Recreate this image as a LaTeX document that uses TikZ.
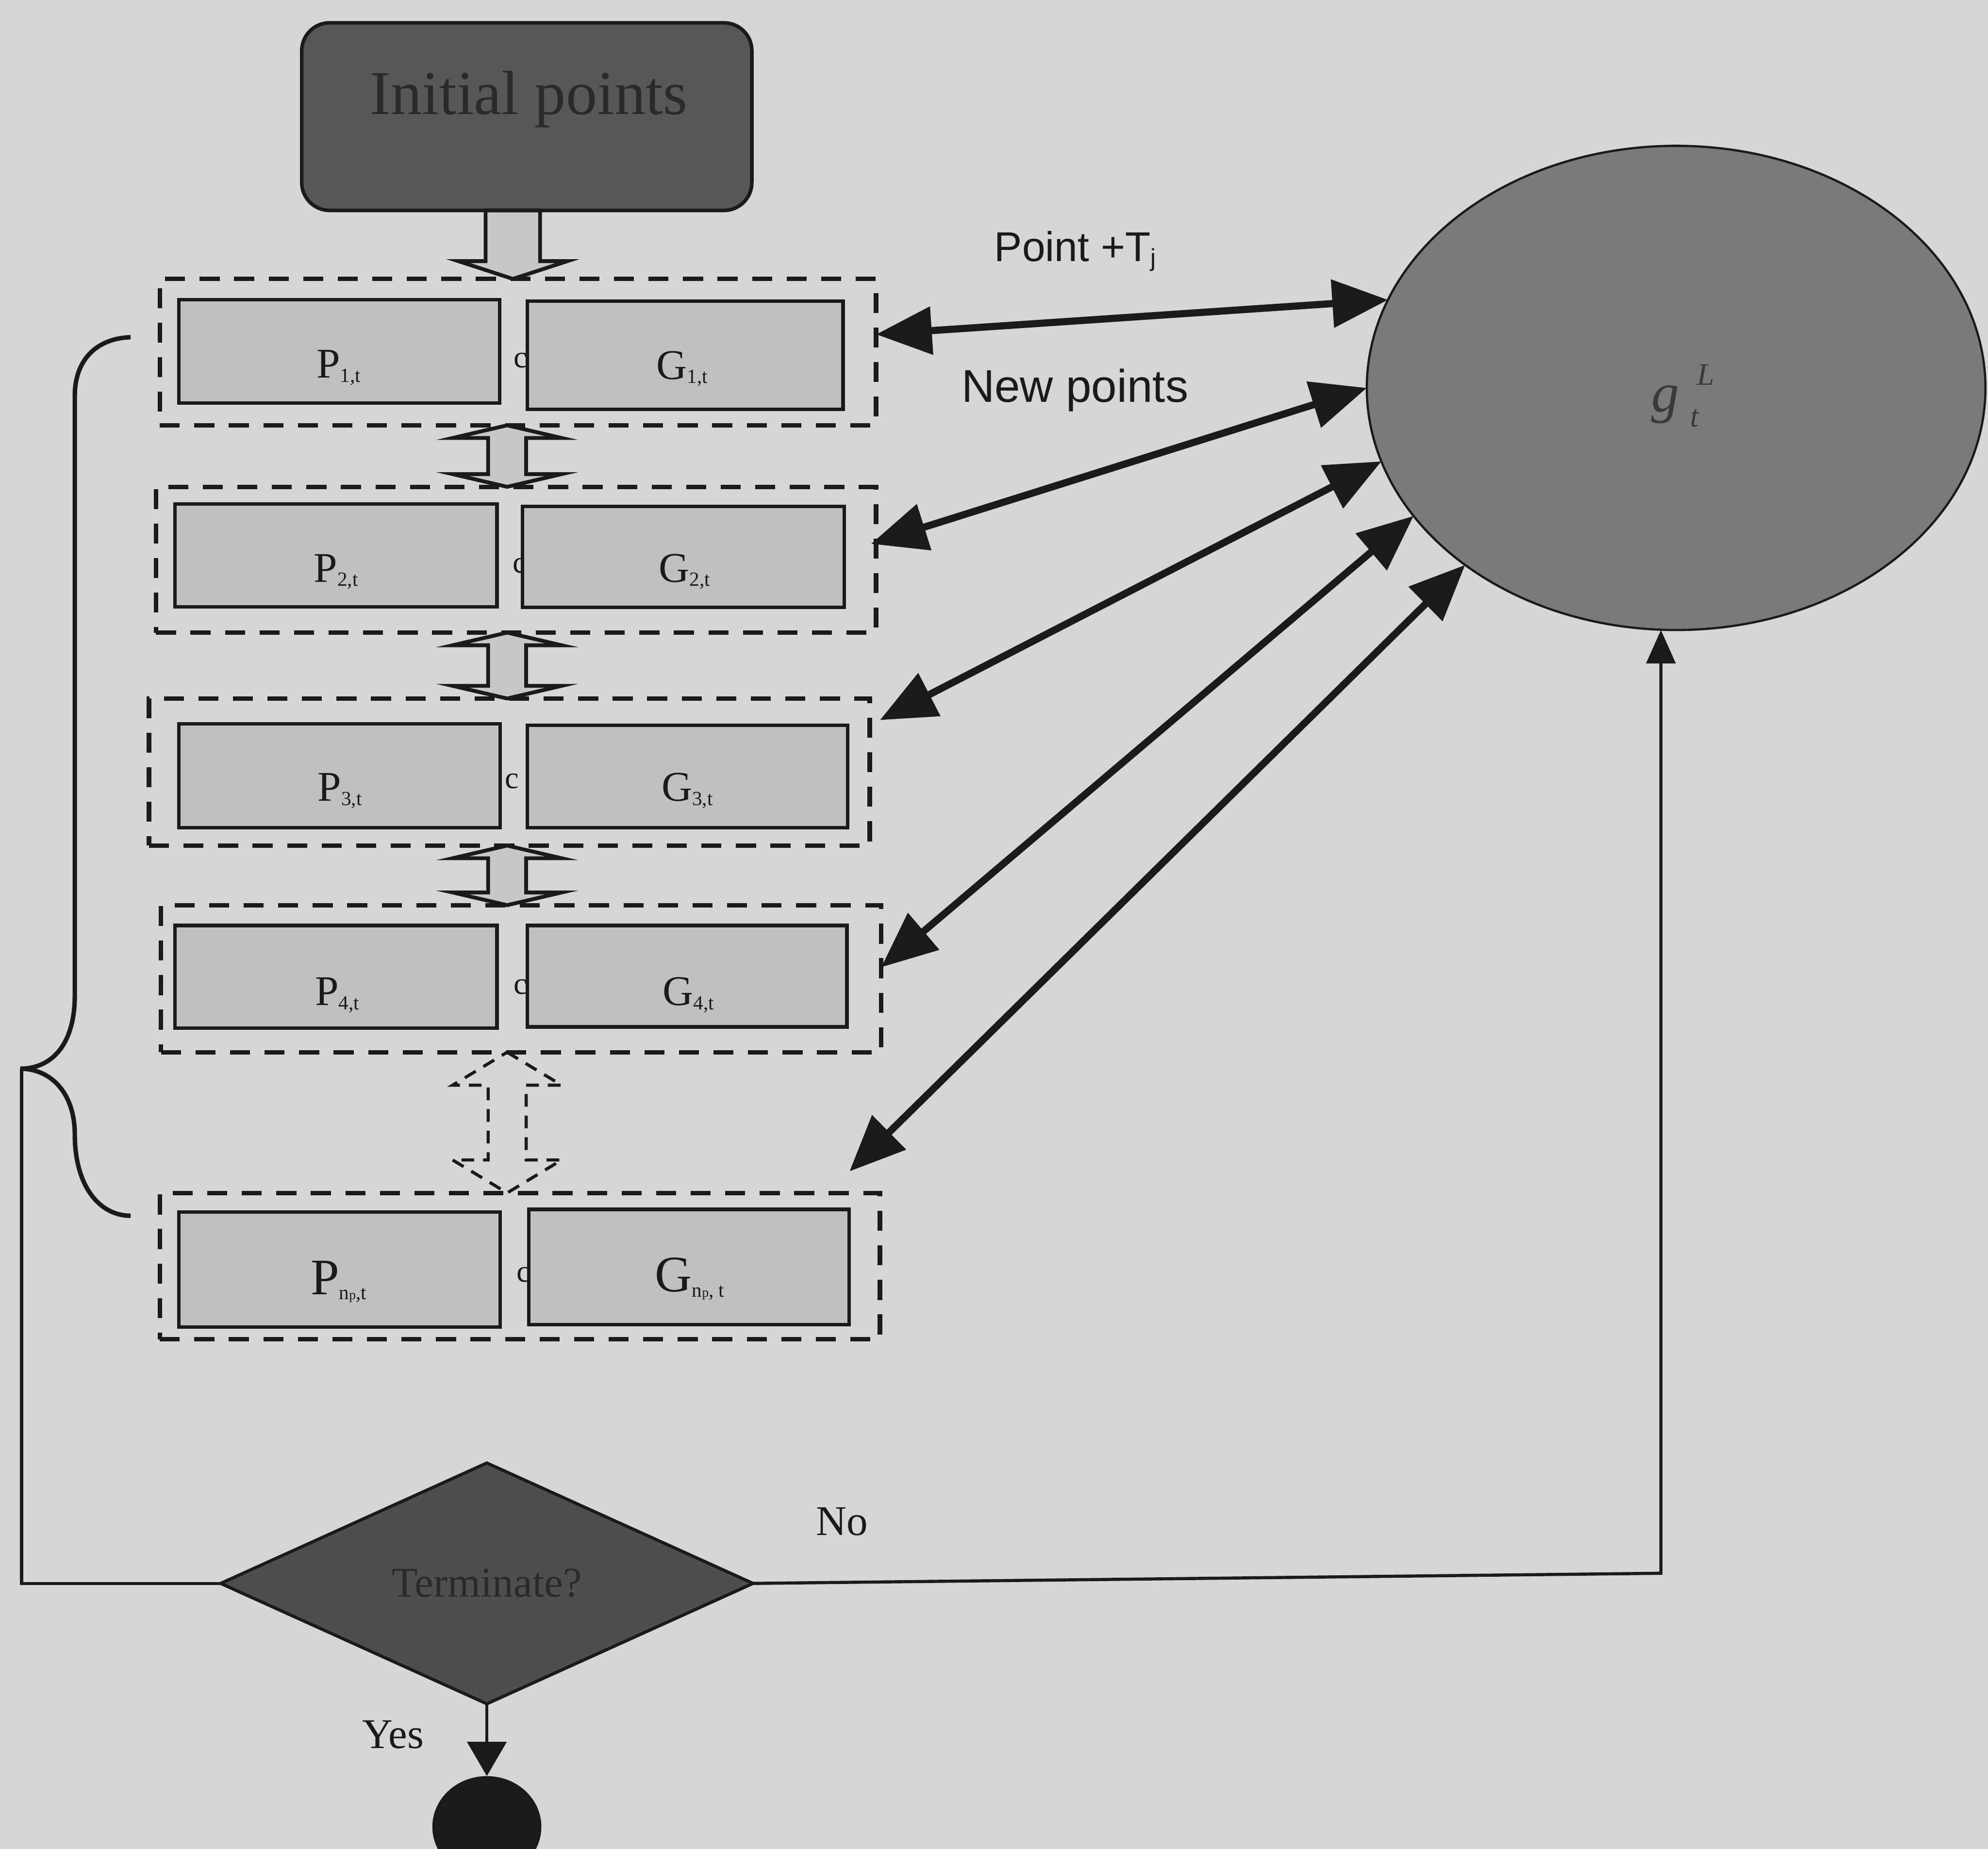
\documentclass[tikz,border=0pt]{standalone}
\usepackage{fontspec}
\setmainfont{Liberation Serif}
\newfontfamily\arialfont{Liberation Sans}
\usetikzlibrary{arrows.meta,shapes.geometric,fit,calc}

\definecolor{bg}{HTML}{D6D6D6}
\definecolor{ink}{HTML}{1A1A1A}
\definecolor{cellgray}{HTML}{C0C0C0}
\definecolor{arrowgray}{HTML}{C8C8C8}
\definecolor{initgray}{HTML}{575757}
\definecolor{inittext}{HTML}{2A2A2A}
\definecolor{diamgray}{HTML}{4E4E4E}
\definecolor{ellgray}{HTML}{7A7A7A}
\definecolor{elltext}{HTML}{3A3A3A}

% small lowered index used in the cell labels
\newcommand\lowsub[1]{\raisebox{-0.1em}{\fontsize{9}{9}\selectfont #1}}

% vertical double-headed block arrow between two points (top, bottom, head length)
\newcommand\dblarrow[4][]{%
  \draw[blockarrow,#1] (#2) -- ($(#2)+(0.86cm,-#4)$) -- ($(#2)+(0.3cm,-#4)$)
    -- ($(#3)+(0.3cm,#4)$) -- ($(#3)+(0.86cm,#4)$) -- (#3)
    -- ($(#3)+(-0.86cm,#4)$) -- ($(#3)+(-0.3cm,#4)$)
    -- ($(#2)+(-0.3cm,-#4)$) -- ($(#2)+(-0.86cm,-#4)$) -- cycle;}

\tikzset{
  dashbox/.style={draw=ink, line width=2pt, dash pattern=on 9pt off 6.5pt,
    inner sep=0pt, outer sep=0pt},
  cellbox/.style={draw=ink, fill=cellgray, line width=1.6pt, inner sep=0pt, outer sep=0pt},
  celltext/.style={anchor=base, text=ink, inner sep=0pt, font=\fontsize{19}{19}\selectfont},
  bigcelltext/.style={anchor=base, text=ink, inner sep=0pt, font=\fontsize{23}{23}\selectfont},
  cmark/.style={anchor=base west, text=ink, inner sep=0pt, font=\fontsize{14}{14}\selectfont},
  blockarrow/.style={draw=ink, fill=arrowgray, line width=1.7pt, line join=miter},
  ghostarrow/.style={draw=ink, fill=none, line width=1.4pt, dash pattern=on 5.7pt off 4pt},
  link/.style={draw=ink, line width=3.2pt,
    arrows={Triangle[length=25pt,width=21pt]-Triangle[length=25pt,width=21pt]}},
  thinline/.style={draw=ink, line width=1.4pt},
  sanslabel/.style={anchor=base west, text=ink, inner sep=0pt, font=\arialfont},
  seriflabel/.style={anchor=base, text=ink, inner sep=0pt, font=\fontsize{19}{19}\selectfont},
}

\begin{document}
\begin{tikzpicture}[x=0.02cm, y=-0.02cm]
\useasboundingbox (0,0) rectangle (1568,1458.4);
\fill[bg] (0,0) rectangle (1568,1458.4);

% start box
\node[draw=ink, fill=initgray, line width=1.6pt, rounded corners=0.44cm,
      inner sep=0pt, outer sep=0pt, fit={(238,18) (593,166)}] (init) {};
\node[anchor=base, inner sep=0pt, text=inittext, font=\fontsize{28}{28}\selectfont]
      (inittxt) at (417,90) {Initial points};

% population rows
\node[dashbox, fit={(126,220) (691,335.5)}] (row1) {};
\node[cellbox, fit={(141,236.5) (394,318)}] (p1) {};
\node[cmark] (c1) at (405,290) {c};
\node[cellbox, fit={(416,237.6) (665,323)}] (g1) {};
\node[celltext] (p1t) at (267,298) {P\lowsub{1,t}};
\node[celltext] (g1t) at (538,299) {G\lowsub{1,t}};

\node[dashbox, fit={(123,384) (691,499)}] (row2) {};
\node[cellbox, fit={(138,397.5) (392,478.6)}] (p2) {};
\node[cmark] (c2) at (404,452) {c};
\node[cellbox, fit={(412,399.5) (666,479)}] (g2) {};
\node[celltext] (p2t) at (265,459) {P\lowsub{2,t}};
\node[celltext] (g2t) at (540,459) {G\lowsub{2,t}};

\node[dashbox, fit={(117.5,551) (686,667)}] (row3) {};
\node[cellbox, fit={(141,571) (394.5,653)}] (p3) {};
\node[cmark] (c3) at (398,622) {c};
\node[cellbox, fit={(416,572) (668.5,653)}] (g3) {};
\node[celltext] (p3t) at (268,632) {P\lowsub{3,t}};
\node[celltext] (g3t) at (542,632) {G\lowsub{3,t}};

\node[dashbox, fit={(127,714) (695,830)}] (row4) {};
\node[cellbox, fit={(138,730) (392,811)}] (p4) {};
\node[cmark] (c4) at (405,784) {c};
\node[cellbox, fit={(416,730) (668,810)}] (g4) {};
\node[celltext] (p4t) at (266,793) {P\lowsub{4,t}};
\node[celltext] (g4t) at (543,793) {G\lowsub{4,t}};

\node[dashbox, fit={(126,941) (694,1056.5)}] (row5) {};
\node[cellbox, fit={(141,956) (394.5,1046.7)}] (p5) {};
\node[cmark] (c5) at (407,1011) {c};
\node[cellbox, fit={(417,954) (669.6,1045)}] (g5) {};
\node[bigcelltext] (p5t) at (267,1021) {P\lowsub{n{\fontsize{6}{6}\selectfont p},t}};
\node[bigcelltext] (g5t) at (544,1019) {G\lowsub{n{\fontsize{6}{6}\selectfont p}, t}};

% global model
\node[ellipse, draw=ink, fill=ellgray, line width=1pt, inner sep=0pt, outer sep=0pt,
      minimum width=9.76cm, minimum height=7.64cm] (gl) at (1322,306) {};
\node[anchor=base west, inner sep=0pt, text=elltext] (gltxt) at (1302,325)
  {\fontsize{25}{25}\selectfont\itshape g\hspace{0.2em}\rlap{\hspace{3pt}\raisebox{0.48em}{\fontsize{14}{14}\selectfont L}}\raisebox{-0.27em}{\fontsize{14}{14}\selectfont t}};

% decision and end
\node[diamond, aspect=2.2, draw=ink, fill=diamgray, line width=1.4pt, inner sep=0pt,
      outer sep=0pt, minimum width=8.4cm, minimum height=3.8cm, text=inittext,
      font=\fontsize{19}{19}\selectfont] (term) at (384,1249) {Terminate?};
\node[ellipse, fill=ink, inner sep=0pt, outer sep=0pt, minimum width=1.72cm,
      minimum height=1.6cm] (stop) at (384,1441) {};

% block arrows between the rows
\coordinate (ia) at (404.5,0);
\coordinate (ax) at (400,0);
\draw[blockarrow] ($(init.south -| ia)+(-0.43cm,0)$) -- ($(row1.north -| ia)+(-0.43cm,0.28cm)$)
  -- ($(row1.north -| ia)+(-0.86cm,0.28cm)$) -- (row1.north -| ia)
  -- ($(row1.north -| ia)+(0.86cm,0.28cm)$) -- ($(row1.north -| ia)+(0.43cm,0.28cm)$)
  -- ($(init.south -| ia)+(0.43cm,0)$) -- cycle;
\dblarrow{row1.south -| ax}{row2.north -| ax}{0.2cm}
\dblarrow{row2.south -| ax}{row3.north -| ax}{0.2cm}
\dblarrow{row3.south -| ax}{row4.north -| ax}{0.2cm}
\dblarrow[ghostarrow]{row4.south -| ax}{row5.north -| ax}{0.52cm}

% exchanges with the global model
\draw[link] ([yshift=0.28cm]row1.east) -- (gl.163);
\draw[link] ([xshift=-0.08cm,yshift=0.25cm]row2.east) -- (gl.180);
\draw[link] ([xshift=0.16cm,yshift=0.82cm]row3.east) -- (gl.194);
\draw[link] ([yshift=0.18cm]row4.east) -- (gl.206);
\draw[link] ([xshift=-0.48cm,yshift=0.34cm]row5.north east) -- (gl.220);

\node[sanslabel, font=\arialfont\fontsize{18.7}{20}\selectfont] (ptj) at (784,206)
  {Point +T\raisebox{-0.12em}{\fontsize{11}{11}\selectfont j}};
\node[sanslabel, font=\arialfont\fontsize{20.6}{22}\selectfont] (newp) at (758,317) {New points};

% brace grouping the rows
\draw[ink, line width=2pt] (103,266) .. controls (75,267) and (59,285) .. (59,312)
  -- (59,785) .. controls (59,825) and (40,843) .. (16,843);
\draw[ink, line width=2pt] (16,843) .. controls (40,843) and (59,862) .. (59,895)
  .. controls (59,935) and (78,959) .. (103,959);
\coordinate (btip) at (17,843);

% loop back and decision outputs
\draw[thinline] (term.west) -| (btip);
\coordinate (ncorner) at (1310,1241);
\draw[thinline, -{Triangle[length=15pt,width=13pt]}] (term.east) -- (ncorner) -- (ncorner |- gl.south);
\draw[thinline, line width=1.2pt, -{Triangle[length=15.4pt,width=17.6pt]}] (term.south) -- (stop.north);

\node[seriflabel] (nolbl) at (664,1211) {No};
\node[seriflabel] (yeslbl) at (310,1379) {Yes};
\end{tikzpicture}
\end{document}
